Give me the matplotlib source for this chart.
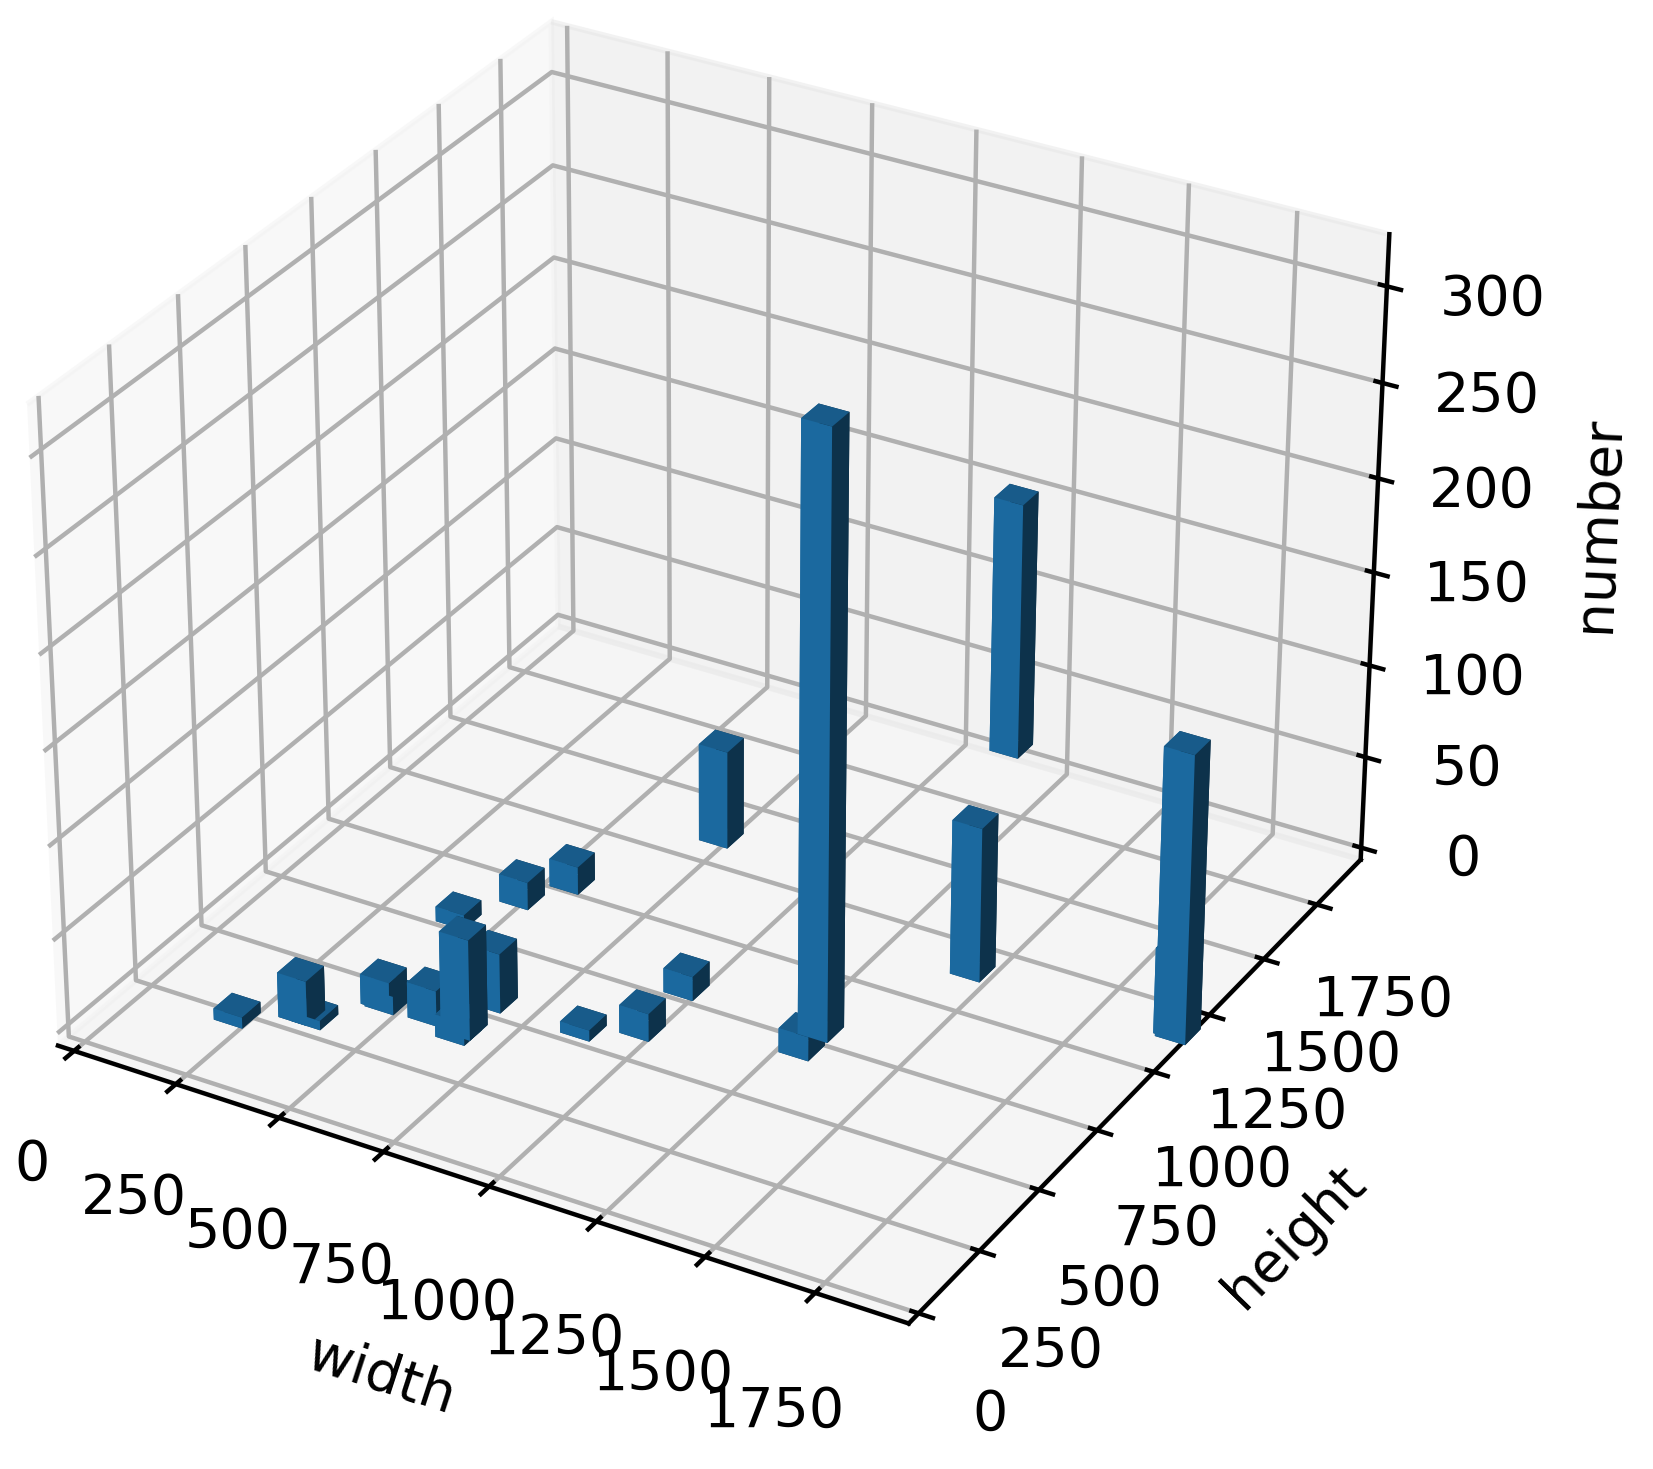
import numpy as np
import matplotlib
matplotlib.use('Agg')
import matplotlib.pyplot as plt

# image sizes and how many of each
width = [210, 320, 352, 440, 452, 552, 640, 640, 640, 405, 480, 540, 720, 854, 960, 960, 1280, 1280, 1080, 1440, 1920, 1912]
height = [165, 240, 240, 368, 364, 372, 360, 338, 480, 720, 854, 960, 1280, 480, 540, 720, 720, 640, 1920, 1080, 1080, 1088]
number = [6, 24, 5, 16, 10, 19, 54, 12, 32, 8, 15, 15, 53, 6, 15, 13, 320, 13, 140, 83, 154, 46]

dx = 70
dy = 70

fig = plt.figure(figsize=(1653 / 400, 1469 / 400), dpi=400)
ax = fig.add_axes([-0.035, 0.034, 0.918, 1.031], projection='3d')
ax.bar3d(width, height, np.zeros(len(number)), dx, dy, number, shade=True)
ax.set_xlim(-40, 1960, view_margin=0)
ax.set_ylim(-40, 1960, view_margin=0)
ax.set_zlim(-6.67, 326.67, view_margin=0)
ax.set_xticks(range(0, 2000, 250))
ax.set_yticks(range(0, 2000, 250))
ax.set_zticks(range(0, 350, 50))
ax.set_xlabel('width')
ax.set_ylabel('height')
ax.set_zlabel('number')
fig.savefig('out.png', dpi=400)
